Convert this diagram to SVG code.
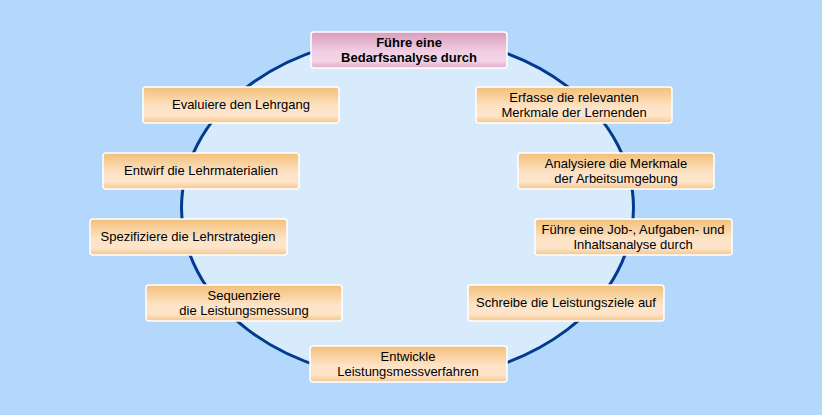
<svg xmlns="http://www.w3.org/2000/svg" width="822" height="415" viewBox="0 0 822 415">
<defs>
<linearGradient id="og" x1="0" y1="0" x2="0" y2="1">
<stop offset="0" stop-color="#f3bf78"/>
<stop offset="0.55" stop-color="#fde3c6"/>
<stop offset="0.8" stop-color="#fde5cb"/>
<stop offset="1" stop-color="#f6c68a"/>
</linearGradient>
<linearGradient id="pg" x1="0" y1="0" x2="0" y2="1">
<stop offset="0" stop-color="#d89cbd"/>
<stop offset="0.55" stop-color="#f1cfe2"/>
<stop offset="0.8" stop-color="#f3d5e6"/>
<stop offset="1" stop-color="#dfaac8"/>
</linearGradient>
<style>
.box{fill:url(#og);stroke:#ffffff;stroke-width:1.5}
.pbox{fill:url(#pg);stroke:#ffffff;stroke-width:1.5}
text{font-family:"Liberation Sans",Arial,sans-serif;font-size:13px;fill:#000;text-anchor:middle}
.b{font-weight:bold}
</style>
</defs>
<rect width="822" height="415" fill="#b4d8fb"/>
<g id="connectors">
<ellipse cx="407.5" cy="208" rx="226" ry="172" fill="#d8ebfd" stroke="#003b8e" stroke-width="3"/>
</g>
<g id="n1"><rect class="pbox" x="311" y="32" width="196" height="36" rx="3"/><text class="b" x="409" y="47">Führe eine</text><text class="b" x="409" y="62">Bedarfsanalyse durch</text></g>
<g id="n2"><rect class="box" x="476" y="87" width="196" height="36" rx="3"/><text x="574" y="102">Erfasse die relevanten</text><text x="574" y="117">Merkmale der Lernenden</text></g>
<g id="n3"><rect class="box" x="518" y="153" width="196" height="36" rx="3"/><text x="616" y="168">Analysiere die Merkmale</text><text x="616" y="183">der Arbeitsumgebung</text></g>
<g id="n4"><rect class="box" x="535" y="219" width="197" height="36" rx="3"/><text x="633" y="234">Führe eine Job-, Aufgaben- und</text><text x="633" y="249">Inhaltsanalyse durch</text></g>
<g id="n5"><rect class="box" x="468" y="285" width="196" height="36" rx="3"/><text x="566" y="307">Schreibe die Leistungsziele auf</text></g>
<g id="n6"><rect class="box" x="310" y="346" width="197" height="36" rx="3"/><text x="408" y="361">Entwickle</text><text x="408" y="376">Leistungsmessverfahren</text></g>
<g id="n7"><rect class="box" x="146" y="285" width="196" height="36" rx="3"/><text x="244" y="300">Sequenziere</text><text x="244" y="315">die Leistungsmessung</text></g>
<g id="n8"><rect class="box" x="90" y="219" width="197" height="36" rx="3"/><text x="188" y="241">Spezifiziere die Lehrstrategien</text></g>
<g id="n9"><rect class="box" x="103" y="153" width="196" height="36" rx="3"/><text x="201" y="175">Entwirf die Lehrmaterialien</text></g>
<g id="n10"><rect class="box" x="143" y="87" width="196" height="36" rx="3"/><text x="241" y="109">Evaluiere den Lehrgang</text></g>
</svg>
